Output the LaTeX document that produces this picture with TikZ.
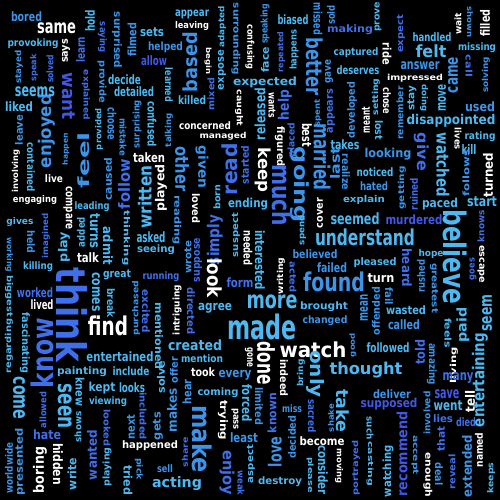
\documentclass[tikz,border=0pt]{standalone}
\usepackage{fontspec}
\setmainfont{DejaVu Sans}
\usepackage{graphicx}
\usepackage{xcolor}
\definecolor{wcW}{HTML}{FFFFFF}
\definecolor{wcL}{HTML}{4FB8F0}
\definecolor{wcM}{HTML}{3D94E8}
\definecolor{wcB}{HTML}{3F6FEA}
\definecolor{wcD}{HTML}{4157E6}
\usepackage{tikz}
\tikzset{
  % Word styles
  bigword/.style={inner sep=0pt, outer sep=0pt, font=\bfseries},
  smallword/.style={inner sep=0pt, outer sep=0pt, font=\bfseries}
}

\begin{document}
\begin{tikzpicture}[x=1pt, y=-1pt]
  % Background
  \useasboundingbox (0,0) rectangle (500,500);
  \fill[black] (0,0) rectangle (500,500);

  % Large words: x/y/rotation/length/height/colour/word
  \foreach \x/\y/\rot/\len/\hgt/\cl/\word in {
    72/315/-90/95/31/B/think, 42/353/90/70/23/B/know, 262/327/0/69/26/L/made,
    455/257/-90/95/24/L/believe, 365/237/0/100/17/L/understand, 334/282/0/62/20/M/found,
    313/350/0/67/16/W/watch, 366/370/0/73/16/L/thought, 272/302/0/51/14/L/more,
    108/326/0/40/20/W/find, 47/131/90/74/17/M/enjoyed, 190/62/90/60/15/M/based,
    315/67/-90/58/17/M/better, 322/157/-90/67/17/M/married, 300/185/-90/76/19/M/going,
    282/195/-90/62/20/B/much, 263/170/-90/45/16/W/keep, 230/169/90/52/16/B/read,
    182/169/-90/45/14/M/other, 202/439/-90/68/20/M/make, 316/374/-90/48/18/L/only,
    266/363/-90/43/18/W/done, 480/380/90/94/16/L/entertaining, 65/406/-90/45/14/L/seen,
    145/197/90/63/14/L/written, 177/484/0/50/14/L/acting, 431/51/0/31/13/L/felt,
    422/152/-90/38/15/B/give, 285/105/90/30/14/B/help, 215/240/90/50/16/B/simply,
    215/278/-90/40/15/W/look, 275/452/90/30/14/M/love, 227/473/-90/45/15/B/enjoy}
    \node[bigword, text=wc\cl, rotate=\rot] (\word) at (\x,\y) {\resizebox*{\len pt}{\hgt pt}{\word}};

  % Small words, top part
  \foreach \x/\y/\rot/\len/\hgt/\cl/\word in {
    26.5/17/0/31/10/M/bored, 56.5/28.5/0/39/11/W/same, 90/21/90/22/10/L/hold,
    66/51/90/24/8/W/says, 80.5/50/90/26/9/B/learn, 102.5/37.5/-90/31/9/B/saying,
    102/82/-90/42/9/M/provide, 117/40/-90/56/10/M/surprised, 132/40/90/34/9/M/filmed,
    152/32/0/24/9/L/sets, 165.5/47/0/35/11/M/helped, 154/61/0/26/10/D/allow,
    33/44/0/51/10/L/provoking, 19/67/90/33/8/M/stayed, 34/68/90/27/8/B/speak,
    50/69/90/28/7/B/solved, 68.5/96/-90/47/13/D/want, 86/95/-90/50/8/B/explained,
    124.5/80/0/33/10/L/decide, 134/92/0/40/10/L/detailed, 35/92/0/40/10/L/seems,
    19/107/0/28/10/L/liked, 19/130/90/30/8/M/leave, 99/129/90/42/8/L/provided,
    112/124/-90/32/9/M/choose, 123/137/-90/38/7/M/mistake, 137/124/90/48/9/M/surprising,
    152/124/-90/45/9/L/confused, 169/130/90/34/8/M/talking, 169/85/-90/34/8/L/learned,
    66/149/90/32/7/M/happen, 31/167/-90/49/8/L/contained, 84/160/90/56/12/M/feel,
    108/179/90/43/8/M/caused, 149/158/0/32/10/W/taken, 124/184/90/50/12/B/follow,
    161/188/90/47/12/W/played, 192/14/0/34/9/L/appear, 192/26/0/34/9/W/leaving,
    208/61/-90/27/7/W/begin, 211/94/90/33/7/B/mixed, 222/70/90/40/8/L/expose,
    222/27/90/41/8/L/adapted, 236/39/-90/72/9/M/surrounding, 250/47/-90/45/9/W/confusing,
    265/24/90/40/9/M/speaking, 265/60/90/26/8/L/face, 281/52/90/40/8/B/repeated,
    293/20/0/31/10/L/biased, 294/50/90/40/9/L/happens, 318/19/-90/32/9/M/missed,
    331/15/90/20/8/M/sold, 350/30/0/46/10/B/making, 329/72/90/24/8/M/gave,
    331/111/90/44/8/B/appears, 318/113/90/27/7/M/spent, 265/82/0/64/11/L/expected,
    192/100/0/28/9/L/killed, 239/108/-90/37/8/W/caught, 260/114/90/52/11/L/released,
    272/105/-90/26/7/W/wants, 280/147/-90/40/10/W/figured, 292/140/90/34/9/B/placed,
    307/135/-90/24/10/W/best, 205/126/0/52/8/W/concerned, 223/136/0/47/8/W/managed,
    202/167/-90/43/13/M/given, 245/165/90/38/8/B/started}
    \node[smallword, text=wc\cl, rotate=\rot] (\word) at (\x,\y) {\resizebox*{\len pt}{\hgt pt}{\word}};

  % Small words, right part
  \foreach \x/\y/\rot/\len/\hgt/\cl/\word in {
    378/17/90/30/7/L/prove, 401/34/90/38/8/B/expect, 432/37/0/39/9/L/handled,
    458/24/90/22/7/W/wait, 470/22/-90/31/6/M/shown, 485/23/90/27/10/W/filled,
    387/54/-90/22/9/W/ride, 356/53/0/45/10/L/captured, 477/48/0/38/10/L/missing,
    420/66/0/39/8/M/answer, 453/75/90/36/10/M/came, 469/66/-90/22/7/B/call,
    486/75/90/36/8/M/solving, 358/70/0/43/9/L/deserves, 415/78/0/56/8/W/impressed,
    352/110/90/56/10/M/developed, 366/120/90/26/8/W/meant, 376/97/90/37/8/L/setting,
    379/130/-90/20/8/L/lost, 387/101/-90/27/8/W/chose, 400/113/90/53/7/M/remember,
    412/98/90/25/9/L/stay, 424/98/-90/27/8/L/doing, 442/98/90/27/8/L/move,
    480/107/0/30/10/M/used, 451/121/0/89/13/L/disappointed, 480/137/0/31/10/L/rating,
    458/139/-90/22/7/W/lives, 469/149/0/15/10/L/kill, 345/145/0/29/10/L/takes,
    346/172/-90/36/8/M/realize, 335/163/90/33/10/M/last, 388/154/0/47/12/M/looking,
    443/165/-90/64/13/L/watched, 466/173/90/47/7/M/follows, 488/175/90/45/10/W/turned,
    375/172/0/37/9/L/noticed, 374/186/0/28/9/M/hated, 364/200/0/42/9/L/explain,
    402/188/90/43/8/M/getting, 414/194/90/32/8/B/ruined, 440/204/0/36/12/L/paced,
    482/202/0/30/10/L/start, 355/219/0/49/12/L/seemed, 414/220/0/57/10/D/murdered,
    481/226/90/32/7/B/knows, 481/264/-90/38/7/W/escape, 473/269/90/22/7/B/goes,
    407/268/-90/39/10/B/heard, 431/254/0/25/9/L/hope, 375/263/0/43/10/L/pleased,
    332/268/0/30/10/M/failed, 315/254/0/45/9/M/believed, 381/278/0/27/9/W/turn,
    421/276/90/33/8/M/rushed, 434/288/-90/50/8/M/greatest, 389/296/-90/18/8/M/fail,
    324/307/0/48/10/L/brought, 364/308/90/27/8/M/mean, 376/311/90/48/8/M/offended,
    406/310/0/40/9/L/wasted, 325/321/0/45/10/M/changed, 404/325/0/32/10/M/called,
    487/313/90/37/10/L/seem, 463/325/90/35/13/L/paid, 448/333/-90/30/7/L/feels,
    353/345/90/24/7/M/good, 388/348/0/43/10/L/followed, 420/352/90/25/10/B/told,
    432/364/-90/42/10/M/amazing, 454/365/90/36/8/W/living, 458/378/0/31/11/B/many,
    343/411/-90/43/13/L/take, 392/394/0/38/9/M/deliver, 389/404/0/57/12/D/supposed,
    447/394/0/25/9/D/save, 448/406/0/29/10/L/went, 470/401/90/22/10/W/tell,
    427/413/90/43/7/M/involved, 443/419/0/20/8/B/lies, 466/422/0/20/9/B/died,
    402/454/90/85/11/D/recommend, 388/471/90/52/11/L/watching, 370/428/-90/23/7/L/such,
    370/464/-90/45/7/L/casting, 356/468/90/55/8/B/portrayed, 415/455/-90/40/7/M/accept,
    428/475/-90/45/9/W/enough, 441/439/90/25/8/B/that, 439/474/-90/23/8/M/deal,
    452/472/90/35/7/B/reveal, 467/466/90/62/10/M/extended, 479/450/90/35/8/W/named,
    491/478/90/31/8/L/keeps, 322/441/0/45/9/W/become, 339/466/-90/35/8/W/moving,
    331/418/90/28/6/M/shake}
    \node[smallword, text=wc\cl, rotate=\rot] (\word) at (\x,\y) {\resizebox*{\len pt}{\hgt pt}{\word}};

  % Small words, middle and bottom
  \foreach \x/\y/\rot/\len/\hgt/\cl/\word in {
    195/345/0/54/11/L/created, 202/359/0/42/8/L/mention, 174/370/90/26/8/M/offer,
    172/410/90/44/10/M/makes, 187/392/90/25/9/M/hear, 203/372/0/24/9/W/took,
    235/375/0/33/10/M/every, 249/357/-90/20/8/W/gone, 284/378/-90/37/8/W/indeed,
    301/373/90/27/8/L/bring, 218/393/0/41/10/L/coming, 247/403/-90/37/10/L/forced,
    259/406/-90/38/8/M/limited, 272/413/90/40/9/B/known, 223/420/-90/40/10/W/trying,
    235/419/-90/22/7/W/pass, 292/409/0/20/8/M/miss, 312/416/-90/33/8/B/sacred,
    292/437/90/43/8/M/decided, 244/438/0/28/10/M/least, 185/452/90/30/6/B/share,
    251/464/90/38/8/L/aspect, 241/483/-90/25/7/B/weak, 280/482/0/44/10/L/destroy,
    310/475/-90/36/7/L/please, 323/470/-90/50/10/L/consider, 150/446/0/56/10/W/happened,
    165/469/0/16/8/M/sell, 217/197/90/25/7/L/born, 196/208/-90/30/8/W/loved,
    177/220/-90/50/9/M/reading, 248/204/0/40/12/L/ending, 236/235/90/44/8/L/suspect,
    248/248/-90/35/9/W/needed, 260/260/-90/60/10/L/interested, 302/230/90/30/8/L/spend,
    320/213/90/30/6/W/cover, 188/257/90/33/7/M/wrote, 198/260/90/44/8/B/suppose,
    240/283/0/27/10/B/form, 281/276/90/37/8/W/writing, 293/277/-90/31/7/B/acted,
    177/310/90/50/9/W/intriguing, 191/311/-90/47/8/B/directed, 215/308/0/34/10/L/agree,
    156/250/0/38/10/L/seeing, 161/277/0/37/10/B/running}
    \node[smallword, text=wc\cl, rotate=\rot] (\word) at (\x,\y) {\resizebox*{\len pt}{\hgt pt}{\word}};

  % Small words, left part
  \foreach \x/\y/\rot/\len/\hgt/\cl/\word in {
    16/171/90/43/8/W/involving, 54/179/0/18/8/W/live, 68/208/-90/43/9/W/compare,
    35/200/0/44/9/W/engaging, 92/207/0/35/10/L/leading, 20/222/0/27/9/L/gives,
    31/242/-90/23/8/M/held, 46/236/90/45/8/B/imagined, 64/247/90/30/12/L/play,
    81/232/90/30/8/L/added, 95/231/-90/35/10/L/turns, 108/246/-90/38/10/L/admit,
    126/238/-90/55/8/L/thinking, 151/237/0/29/11/L/asked, 88/258/0/22/10/W/talk,
    9/255/-90/35/8/M/working, 9/296/-90/42/8/L/biggest, 38/267/0/30/10/L/killing,
    117/275/0/28/10/L/great, 96/292/-90/39/8/L/comes, 111/303/-90/30/8/L/break,
    136/308/90/55/8/M/purchased, 146/311/-90/43/8/B/excited, 159/336/-90/67/8/L/mentioned,
    35/293/0/36/10/B/worked, 42/305/0/23/10/W/lived, 25/343/-90/61/10/L/fascinating,
    9/346/90/55/8/L/regarding, 120/357/0/67/10/L/entertained, 82/372/0/50/10/L/painting,
    131/371/0/37/9/L/include, 161/377/90/33/8/L/solve, 19/398/-90/43/12/L/come,
    43/410/90/36/7/B/allowed, 80/392/-90/29/9/L/knew, 102/388/0/27/12/L/kept,
    132/388/0/26/10/L/looks, 108/402/0/38/10/L/viewing, 78/427/90/31/7/L/shows,
    107/428/-90/37/7/B/looked, 107/467/90/39/9/L/playing, 143/416/-90/48/7/B/included,
    131/427/90/25/8/M/next, 158/426/90/28/10/M/gets, 47/435/0/28/10/B/hate,
    92/455/90/50/10/B/wanted, 9/468/90/51/8/M/worldwide, 20/462/90/67/10/M/presented,
    40/470/90/46/14/W/boring, 58/464/-90/42/10/W/hidden, 72/474/90/32/9/L/write,
    128/480/-90/30/9/L/tried, 139/469/-90/22/8/M/pick}
    \node[smallword, text=wc\cl, rotate=\rot] (\word) at (\x,\y) {\resizebox*{\len pt}{\hgt pt}{\word}};
\end{tikzpicture}
\end{document}
